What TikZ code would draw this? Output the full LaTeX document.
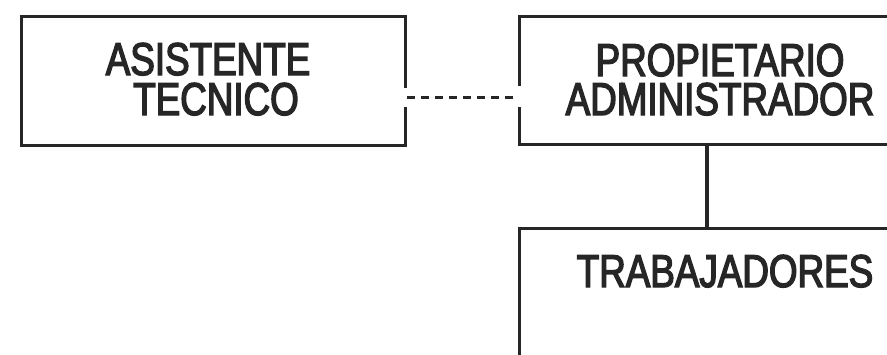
\documentclass[tikz,border=0pt]{standalone}
\usepackage{fontspec}
\newfontfamily\plotfont[FakeStretch=0.8,FakeBold=3]{Liberation Sans}
\begin{document}
\begin{tikzpicture}[x=1pt,y=-1pt,
  box/.style={draw=black!85, line width=3.4pt, inner sep=0pt, anchor=north west},
  lbl/.style={font={\plotfont\fontsize{46}{40}\selectfont}, text=black!85, inner sep=0pt,
    text height=33pt, text depth=0pt, anchor=base},
  conn/.style={draw=black!85, line width=3.4pt},
  dotted link/.style={draw=black!85, line width=3pt, dash pattern=on 8pt off 6pt}]
\useasboundingbox (0,0) rectangle (887,354);
\node[box, minimum width=384pt, minimum height=129pt] (asis) at (20,15) {};
\node[box, minimum width=404pt, minimum height=128pt] (prop) at (518,15) {};
\node[box, minimum width=404pt, minimum height=140pt] (trab) at (518,227) {};
\node[lbl] (tasis1) at (208,75) {ASISTENTE};
\node[lbl] (tasis2) at (216,115) {TECNICO};
\node[lbl] (tprop1) at (720,76) {PROPIETARIO};
\node[lbl] (tprop2) at (720,115) {ADMINISTRADOR};
\node[lbl] (ttrab) at (725,287) {TRABAJADORES};
\coordinate (d) at (0,97);
\coordinate (j) at (707,0);
% gaps in the borders where the dashed link meets them
\fill[white] ([xshift=-3pt]asis.east |- 0,88) rectangle ([xshift=3pt]asis.east |- 0,107);
\fill[white] ([xshift=-3pt]prop.west |- 0,86) rectangle ([xshift=3pt]prop.west |- 0,107);
\draw[dotted link] (asis.east |- d) -- (prop.west |- d);
\draw[conn] (prop.south -| j) -- (trab.north -| j);
\end{tikzpicture}
\end{document}
